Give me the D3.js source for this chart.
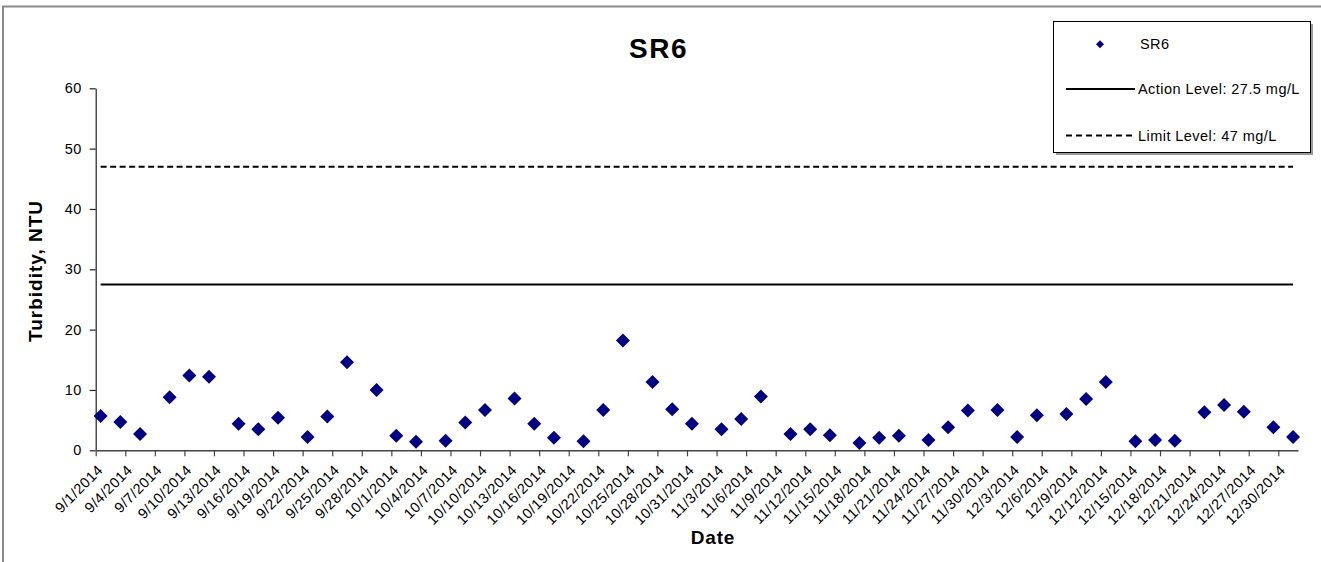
<!DOCTYPE html>
<html>
<head>
<meta charset="utf-8">
<script src="https://cdn.jsdelivr.net/npm/d3@7"></script>
<style>
  html, body { margin: 0; padding: 0; background: #fff; }
  svg { display: block; font-family: Arial, "Liberation Sans", sans-serif; }
</style>
</head>
<body>
<svg id="chart" width="1321" height="562"></svg>
<script>
// ---- data ----
const chartTitle = "SR6";
const seriesName = "SR6";
const sampleDates = [
  "9/1/2014","9/3/2014","9/5/2014","9/8/2014","9/10/2014","9/12/2014","9/15/2014","9/17/2014","9/19/2014",
  "9/22/2014","9/24/2014","9/26/2014","9/29/2014","10/1/2014","10/3/2014","10/6/2014","10/8/2014","10/10/2014",
  "10/13/2014","10/15/2014","10/17/2014","10/20/2014","10/22/2014","10/24/2014","10/27/2014","10/29/2014","10/31/2014",
  "11/3/2014","11/5/2014","11/7/2014","11/10/2014","11/12/2014","11/14/2014","11/17/2014","11/19/2014","11/21/2014",
  "11/24/2014","11/26/2014","11/28/2014","12/1/2014","12/3/2014","12/5/2014","12/8/2014","12/10/2014","12/12/2014",
  "12/15/2014","12/17/2014","12/19/2014","12/22/2014","12/24/2014","12/26/2014","12/29/2014","12/31/2014"
];
const turbidity = [
  5.7, 4.7, 2.7, 8.8, 12.4, 12.2, 4.4, 3.5, 5.4,
  2.2, 5.6, 14.6, 10.0, 2.4, 1.4, 1.6, 4.6, 6.7,
  8.6, 4.4, 2.1, 1.5, 6.7, 18.2, 11.3, 6.8, 4.4,
  3.5, 5.2, 8.9, 2.7, 3.5, 2.5, 1.2, 2.1, 2.4,
  1.7, 3.8, 6.6, 6.7, 2.2, 5.8, 6.0, 8.5, 11.3,
  1.5, 1.7, 1.6, 6.3, 7.5, 6.4, 3.8, 2.2
];
const actionLevel = 27.5;
const limitLevel = 47;
const legendLabels = ["SR6", "Action Level: 27.5 mg/L", "Limit Level: 47 mg/L"];
const xDomain = ["9/1/2014", "1/1/2015"];
const xTickLabels = [
  "9/1/2014","9/4/2014","9/7/2014","9/10/2014","9/13/2014","9/16/2014","9/19/2014","9/22/2014","9/25/2014","9/28/2014",
  "10/1/2014","10/4/2014","10/7/2014","10/10/2014","10/13/2014","10/16/2014","10/19/2014","10/22/2014","10/25/2014","10/28/2014","10/31/2014",
  "11/3/2014","11/6/2014","11/9/2014","11/12/2014","11/15/2014","11/18/2014","11/21/2014","11/24/2014","11/27/2014","11/30/2014",
  "12/3/2014","12/6/2014","12/9/2014","12/12/2014","12/15/2014","12/18/2014","12/21/2014","12/24/2014","12/27/2014","12/30/2014"
];
const yTicks = [0, 10, 20, 30, 40, 50, 60];
const yDomain = [0, 60];
const xTitle = "Date";
const yTitle = "Turbidity, NTU";

// ---- setup ----
const parse = d3.timeParse("%m/%d/%Y");
const svg = d3.select("#chart");
const W = 1321, H = 562;
const plot = { left: 95.7, right: 1298, top: 88.3, bottom: 450.3 };

const x = d3.scaleTime().domain(xDomain.map(parse)).range([plot.left, plot.right]);
const y = d3.scaleLinear().domain(yDomain).range([plot.bottom, plot.top]);
const mid = d => d3.timeHour.offset(d, 12); // points sit in the middle of their day slot

const points = sampleDates.map((s, i) => ({ date: parse(s), value: turbidity[i] }));

// outer chart border
svg.append("rect").attr("x", 3).attr("y", 6.5).attr("width", W + 10).attr("height", H + 10)
  .attr("fill", "#fff").attr("stroke", "#8a8a8a").attr("stroke-width", 2);

// title
svg.append("text").attr("x", 658.5).attr("y", 58).attr("text-anchor", "middle")
  .attr("font-size", 28).attr("font-weight", "bold").attr("letter-spacing", 1.5).text(chartTitle);

// y axis
const yAxis = d3.axisLeft(y).tickValues(yTicks).tickSize(6).tickPadding(8).tickSizeOuter(0);
const gy = svg.append("g").attr("transform", `translate(${plot.left},0)`).call(yAxis);
gy.select(".domain").attr("stroke", "#222").attr("stroke-width", 1.2);
gy.selectAll(".tick line").attr("stroke", "#222").attr("stroke-width", 1.2);
gy.selectAll(".tick text").attr("font-size", 14.5).attr("fill", "#000").attr("letter-spacing", 0.4)
  .attr("font-family", "Arial, 'Liberation Sans', sans-serif");

// x axis
const xTickDates = xTickLabels.map(parse);
const xAxis = d3.axisBottom(x).tickValues(xTickDates).tickSize(6).tickSizeOuter(0)
  .tickFormat(d => xTickLabels[xTickDates.findIndex(t => +t === +d)]);
const gx = svg.append("g").attr("transform", `translate(0,${plot.bottom})`).call(xAxis);
gx.select(".domain").attr("stroke", "#444").attr("stroke-width", 1.5);
gx.selectAll(".tick line").attr("stroke", "#444").attr("stroke-width", 1.2);
gx.selectAll(".tick text")
  .attr("font-size", 14.5).attr("fill", "#000").attr("letter-spacing", 0.5)
  .attr("font-family", "Arial, 'Liberation Sans', sans-serif")
  .attr("text-anchor", "end")
  .attr("y", 0).attr("dy", "0.35em")
  .attr("transform", "translate(4,17) rotate(-45)");

// axis titles
svg.append("text").attr("x", 713).attr("y", 544).attr("text-anchor", "middle")
  .attr("font-size", 19).attr("font-weight", "bold").attr("letter-spacing", 0.8).text(xTitle);
svg.append("text").attr("transform", "translate(42,271) rotate(-90)").attr("text-anchor", "middle")
  .attr("font-size", 19).attr("font-weight", "bold").attr("letter-spacing", 1).text(yTitle);

// reference lines (drawn across the sampled date range)
const firstDate = mid(points[0].date), lastDate = mid(points[points.length - 1].date);
const lvl = d3.line().x(d => x(d[0])).y(d => y(d[1]));
svg.append("path").attr("d", lvl([[firstDate, actionLevel], [lastDate, actionLevel]]))
  .attr("stroke", "#000").attr("stroke-width", 2).attr("fill", "none");
svg.append("path").attr("d", lvl([[firstDate, limitLevel], [lastDate, limitLevel]]))
  .attr("stroke", "#000").attr("stroke-width", 2).attr("stroke-dasharray", "6,3.5").attr("fill", "none");

// points
const diamond = d3.symbol().type(d3.symbolSquare).size(98);
svg.append("g").selectAll("path").data(points).join("path")
  .attr("d", diamond)
  .attr("transform", d => `translate(${x(mid(d.date))},${y(d.value)}) rotate(45)`)
  .attr("fill", "#000080");

// legend
const lg = svg.append("g");
lg.append("rect").attr("x", 1056).attr("y", 24).attr("width", 257).attr("height", 131).attr("fill", "#999");
lg.append("rect").attr("x", 1053.5).attr("y", 21.5).attr("width", 257).attr("height", 131)
  .attr("fill", "#fff").attr("stroke", "#000").attr("stroke-width", 1);
lg.append("path").attr("d", d3.symbol().type(d3.symbolSquare).size(32))
  .attr("transform", "translate(1100,44.3) rotate(45)").attr("fill", "#000080");
lg.append("line").attr("x1", 1066).attr("x2", 1135).attr("y1", 89).attr("y2", 89)
  .attr("stroke", "#000").attr("stroke-width", 2);
lg.append("line").attr("x1", 1066).attr("x2", 1135).attr("y1", 135.5).attr("y2", 135.5)
  .attr("stroke", "#000").attr("stroke-width", 2).attr("stroke-dasharray", "6,4");
const lgY = [49, 94, 140.5];
legendLabels.forEach((t, i) => {
  lg.append("text").attr("x", i === 0 ? 1140 : 1138).attr("y", lgY[i])
    .attr("font-size", 14.5).attr("letter-spacing", 0.45).text(t);
});
</script>
</body>
</html>
